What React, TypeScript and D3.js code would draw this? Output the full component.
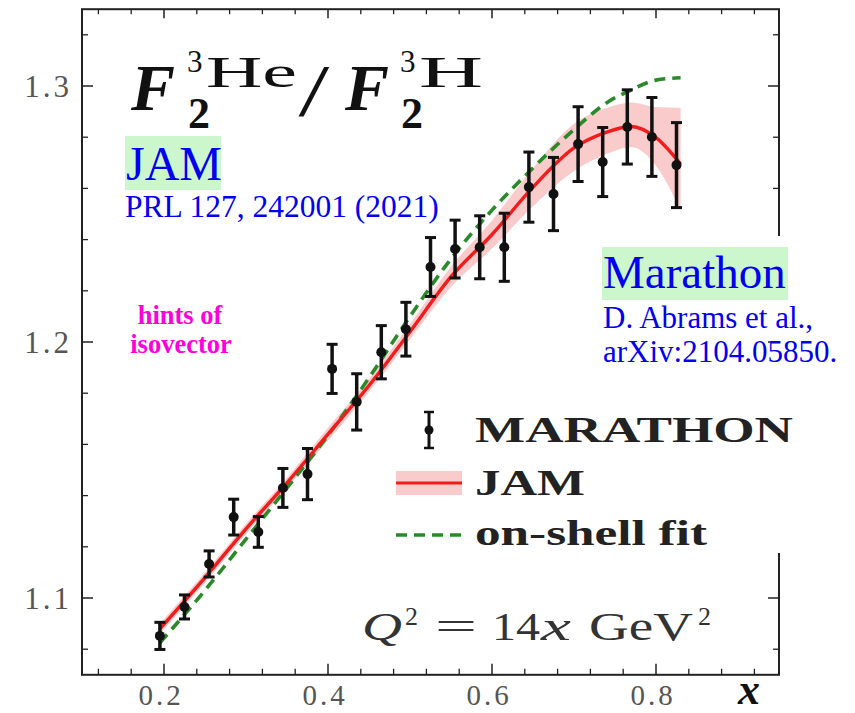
import React from "react";
import * as d3 from "d3";

// MARATHON data: x, F2(3He)/F2(3H), error
const xData = [0.195, 0.225, 0.255, 0.285, 0.315, 0.345, 0.375, 0.405, 0.435, 0.465, 0.495, 0.525, 0.555, 0.585, 0.615, 0.645, 0.675, 0.705, 0.735, 0.765, 0.795, 0.825];
const ratio = [1.0852, 1.0965, 1.1133, 1.1316, 1.1258, 1.143, 1.1484, 1.1895, 1.1766, 1.196, 1.205, 1.2293, 1.2363, 1.237, 1.237, 1.2605, 1.2578, 1.2773, 1.2703, 1.284, 1.2801, 1.2691];
const errs = [0.0053, 0.0047, 0.0051, 0.007, 0.006, 0.0076, 0.01, 0.0096, 0.011, 0.0104, 0.0105, 0.0115, 0.0113, 0.0123, 0.0133, 0.0137, 0.0143, 0.0146, 0.0135, 0.0145, 0.0154, 0.0166];

// JAM curve and band
const curveX = [0.195, 0.25, 0.3, 0.35, 0.4, 0.45, 0.5, 0.55, 0.6, 0.65, 0.7, 0.74, 0.77, 0.8, 0.83];
const jamMid = [1.088, 1.108, 1.127, 1.145, 1.164, 1.183, 1.204, 1.2255, 1.242, 1.2605, 1.2758, 1.282, 1.2842, 1.2798, 1.2695];
const jamLo = [1.086, 1.106, 1.125, 1.143, 1.1615, 1.1805, 1.201, 1.2215, 1.2365, 1.253, 1.2668, 1.2735, 1.2762, 1.2688, 1.2515];
const jamHi = [1.09, 1.11, 1.129, 1.147, 1.1665, 1.1855, 1.207, 1.2295, 1.2475, 1.268, 1.2853, 1.2915, 1.2936, 1.2918, 1.2915];
// on-shell fit
const onShell = [1.0825, 1.103, 1.123, 1.143, 1.1635, 1.186, 1.21, 1.2325, 1.2515, 1.268, 1.283, 1.2935, 1.2985, 1.3023, 1.3032];

const xMajor = [0.2, 0.4, 0.6, 0.8];
const xMinor = [0.12, 0.16, 0.24, 0.28, 0.32, 0.36, 0.44, 0.48, 0.52, 0.56, 0.64, 0.68, 0.72, 0.76, 0.84, 0.88, 0.92];
const yMajor = [1.1, 1.2, 1.3];
const yMinor = [1.08, 1.12, 1.14, 1.16, 1.18, 1.22, 1.24, 1.26, 1.28, 1.32];

const W = 855, H = 713;
const L = 82, R = 779, T = 9.2, B = 674.8;

export default function App() {
  const x = d3.scaleLinear().domain([0.1, 0.95]).range([L, R]);
  const y = d3.scaleLinear().domain([1.07, 1.33]).range([B, T]);

  const idx = curveX.map((_, i) => i);
  const band = d3.area<number>()
    .x((i) => x(curveX[i]))
    .y0((i) => y(jamLo[i]))
    .y1((i) => y(jamHi[i]))
    .curve(d3.curveMonotoneX)(idx);
  const jamLine = d3.line<number>()
    .x((i) => x(curveX[i]))
    .y((i) => y(jamMid[i]))
    .curve(d3.curveMonotoneX)(idx);
  const greenLine = d3.line<number>()
    .x((i) => x(curveX[i]))
    .y((i) => y(onShell[i]))
    .curve(d3.curveMonotoneX)(idx);

  const serif = "'Liberation Serif', 'Times New Roman', serif";
  const tickCol = "#222";

  return (
    <svg width={W} height={H} style={{ position: "absolute", left: 0, top: 0, background: "#fff" }} fontFamily={serif}>
      <rect x={0} y={0} width={W} height={H} fill="#fff" />

      {/* data */}
      <path d={band ?? ""} fill="#f4a0a0" opacity={0.55} />
      <path d={greenLine ?? ""} fill="none" stroke="#2a8a2a" strokeWidth={3.6} strokeDasharray="11,7" />
      <path d={jamLine ?? ""} fill="none" stroke="#f21c1c" strokeWidth={3.4} />
      {xData.map((xv, i) => {
        const cx = x(xv);
        const y1 = y(ratio[i] + errs[i]);
        const y2 = y(ratio[i] - errs[i]);
        return (
          <g key={i} stroke="#111" strokeWidth={3.5}>
            <line x1={cx} x2={cx} y1={y1} y2={y2} />
            <line x1={cx - 5.5} x2={cx + 5.5} y1={y1} y2={y1} strokeWidth={3} />
            <line x1={cx - 5.5} x2={cx + 5.5} y1={y2} y2={y2} strokeWidth={3} />
            <circle cx={cx} cy={y(ratio[i])} r={5} fill="#111" stroke="none" />
          </g>
        );
      })}

      {/* frame */}
      <rect x={L} y={T} width={R - L} height={B - T} fill="none" stroke={tickCol} strokeWidth={2} />
      {xMajor.map((v) => (
        <g key={"xM" + v} stroke={tickCol} strokeWidth={1.5}>
          <line x1={x(v)} x2={x(v)} y1={B} y2={B - 11} />
          <line x1={x(v)} x2={x(v)} y1={T} y2={T + 9} />
        </g>
      ))}
      {xMinor.map((v) => (
        <g key={"xm" + v} stroke={tickCol} strokeWidth={1.3}>
          <line x1={x(v)} x2={x(v)} y1={B} y2={B - 6} />
          <line x1={x(v)} x2={x(v)} y1={T} y2={T + 5} />
        </g>
      ))}
      {yMajor.map((v) => (
        <g key={"yM" + v} stroke={tickCol} strokeWidth={1.5}>
          <line x1={L} x2={L + 11} y1={y(v)} y2={y(v)} />
          <line x1={R} x2={R - 11} y1={y(v)} y2={y(v)} />
        </g>
      ))}
      {yMinor.map((v) => (
        <g key={"ym" + v} stroke={tickCol} strokeWidth={1.3}>
          <line x1={L} x2={L + 6} y1={y(v)} y2={y(v)} />
          <line x1={R} x2={R - 6} y1={y(v)} y2={y(v)} />
        </g>
      ))}
      {xMajor.map((v) => (
        <text key={"xl" + v} x={x(v) - 3} y={705} textAnchor="middle" fontSize={29} fill="#555" letterSpacing={3}>
          {v.toFixed(1)}
        </text>
      ))}
      {yMajor.map((v) => (
        <text key={"yl" + v} x={72} y={y(v) + 11} textAnchor="end" fontSize={31} fill="#555" letterSpacing={3}>
          {v.toFixed(1)}
        </text>
      ))}
      <text x={738} y={704} fontSize={44} fontWeight="bold" fontStyle="italic" fill="#111">x</text>

      {/* cover right frame behind annotations */}
      <rect x={770} y={236} width={22} height={317} fill="#fff" />

      {/* title */}
      <g fill="#111">
        <text x={131} y={110} fontSize={66} fontStyle="italic" fontWeight="bold">F</text>
        <text x={187} y={72} fontSize={31}>3</text>
        <text x={206} y={87} fontSize={44} textLength={91} lengthAdjust="spacingAndGlyphs">He</text>
        <text x={188} y={128} fontSize={44} fontWeight="bold">2</text>
        <text x={303} y={116} fontSize={74} fontStyle="italic" fontWeight="bold">/</text>
        <text x={345} y={110} fontSize={66} fontStyle="italic" fontWeight="bold">F</text>
        <text x={400} y={72} fontSize={31}>3</text>
        <text x={419} y={87} fontSize={44} textLength={64} lengthAdjust="spacingAndGlyphs">H</text>
        <text x={401} y={128} fontSize={44} fontWeight="bold">2</text>
      </g>

      {/* JAM annotation */}
      <rect x={125} y={136} width={96} height={54} fill="#ccf7cc" />
      <text x={126} y={180} fontSize={48} fill="#0000ee">JAM</text>
      <text x={125} y={217} fontSize={31.5} fill="#0000ee">PRL 127, 242001 (2021)</text>

      {/* Marathon annotation */}
      <rect x={602} y={247} width={186} height={53} fill="#ccf7cc" />
      <text x={603} y={288} fontSize={47} fill="#0000ee">Marathon</text>
      <text x={603} y={328} fontSize={31} fill="#0000ee">D. Abrams et al.,</text>
      <text x={603} y={362} fontSize={31} fill="#0000ee">arXiv:2104.05850.</text>

      {/* hints */}
      <text x={180} y={324} fontSize={26.5} fontWeight="bold" fill="#ff00dd" textAnchor="middle">hints of</text>
      <text x={181} y={353} fontSize={26.5} fontWeight="bold" fill="#ff00dd" textAnchor="middle">isovector</text>

      {/* legend */}
      <g>
        <line x1={429} x2={429} y1={412} y2={448} stroke="#111" strokeWidth={3} />
        <line x1={424} x2={434} y1={412} y2={412} stroke="#111" strokeWidth={2.5} />
        <line x1={424} x2={434} y1={448} y2={448} stroke="#111" strokeWidth={2.5} />
        <circle cx={429} cy={430} r={4.5} fill="#111" />
        <text x={475} y={442} fontSize={36} fontWeight="bold" fill="#222" textLength={318} lengthAdjust="spacingAndGlyphs">MARATHON</text>

        <rect x={396} y={471} width={66} height={24} fill="#f4a0a0" opacity={0.55} />
        <line x1={396} x2={462} y1={483} y2={483} stroke="#f21c1c" strokeWidth={3} />
        <text x={475} y={495} fontSize={36} fontWeight="bold" fill="#222" textLength={110} lengthAdjust="spacingAndGlyphs">JAM</text>

        <line x1={396} x2={462} y1={535} y2={535} stroke="#2a8a2a" strokeWidth={3.5} strokeDasharray="11,7" />
        <text x={475} y={545} fontSize={36} fontWeight="bold" fill="#222" textLength={232} lengthAdjust="spacingAndGlyphs">on-shell fit</text>
      </g>

      {/* Q^2 label */}
      <g fill="#333" fontSize={41}>
        <text x={362} y={640} fontStyle="italic" textLength={40} lengthAdjust="spacingAndGlyphs">Q</text>
        <text x={405} y={625} fontSize={26}>2</text>
        <text x={435} y={640} textLength={42} lengthAdjust="spacingAndGlyphs">=</text>
        <text x={492} y={640} textLength={48} lengthAdjust="spacingAndGlyphs">14</text>
        <text x={541} y={640} fontStyle="italic" textLength={30} lengthAdjust="spacingAndGlyphs">x</text>
        <text x={589} y={640} textLength={104} lengthAdjust="spacingAndGlyphs">GeV</text>
        <text x={698} y={625} fontSize={26}>2</text>
      </g>
    </svg>
  );
}
